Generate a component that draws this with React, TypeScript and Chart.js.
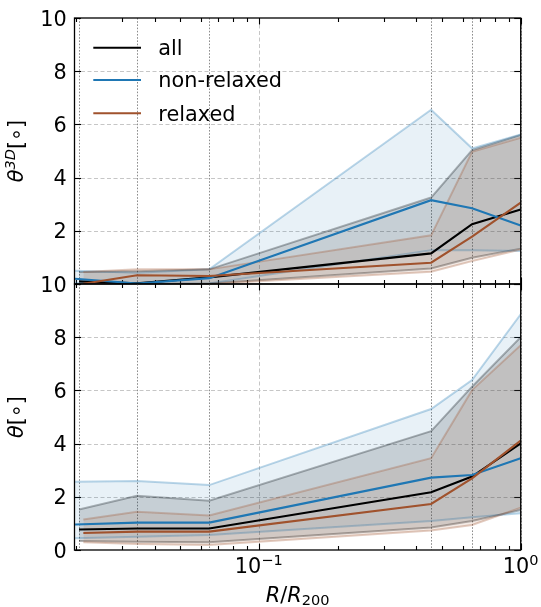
import React, { useEffect, useRef } from "react";
import { Chart, registerables } from "chart.js";
Chart.register(...registerables);

const FONT = '"DejaVu Sans", sans-serif';
const FS = 20.8;

// radial bin positions (R/R200)
const X_ALL = [0.0206, 0.0343, 0.0647, 0.455, 0.652, 1.0];
const X_NONRELAXED = [0.0199, 0.0343, 0.0647, 0.455, 0.652, 1.0];
const X_RELAXED = [0.0214, 0.0343, 0.0647, 0.455, 0.652, 1.0];

// top panel: theta^3D
const TOP_ALL_MED = [0.1, 0.03, 0.25, 1.15, 2.25, 2.8];
const TOP_ALL_LO = [0.02, 0.0, 0.02, 0.58, 0.99, 1.33];
const TOP_ALL_HI = [0.45, 0.48, 0.55, 3.25, 5.03, 5.6];
const TOP_NR_MED = [0.2, 0.02, 0.22, 3.15, 2.85, 2.2];
const TOP_NR_LO = [0.03, 0.0, 0.02, 1.27, 1.27, 1.24];
const TOP_NR_HI = [0.5, 0.42, 0.55, 6.55, 5.1, 5.62];
const TOP_R_MED = [0.01, 0.33, 0.3, 0.8, 1.78, 3.06];
const TOP_R_LO = [0.0, 0.0, 0.0, 0.46, 0.86, 1.3];
const TOP_R_HI = [0.45, 0.55, 0.55, 1.83, 4.97, 5.5];

// bottom panel: theta
const BOT_ALL_MED = [0.77, 0.81, 0.81, 2.17, 2.76, 4.01];
const BOT_ALL_LO = [0.34, 0.31, 0.29, 0.85, 1.09, 1.5];
const BOT_ALL_HI = [1.52, 2.04, 1.85, 4.47, 6.14, 8.0];
const BOT_NR_MED = [0.96, 1.03, 1.03, 2.72, 2.82, 3.45];
const BOT_NR_LO = [0.44, 0.5, 0.56, 1.09, 1.23, 1.38];
const BOT_NR_HI = [2.57, 2.59, 2.44, 5.3, 6.39, 8.86];
const BOT_R_MED = [0.64, 0.69, 0.69, 1.73, 2.69, 4.11];
const BOT_R_LO = [0.29, 0.23, 0.19, 0.73, 0.94, 1.59];
const BOT_R_HI = [1.15, 1.44, 1.3, 3.45, 6.01, 7.7];

const SERIES_LABELS = ["all", "non-relaxed", "relaxed"];
const SERIES_RGB = ["0,0,0", "31,119,180", "160,82,45"];
const FILL_ALPHA = [0.15, 0.1, 0.12];

const Y_TICKS = [0, 2, 4, 6, 8, 10];
const X_MAJOR = [0.1, 1];
const X_MINOR = [0.02, 0.03, 0.04, 0.05, 0.06, 0.07, 0.08, 0.09, 0.2, 0.3, 0.4, 0.5, 0.6, 0.7, 0.8, 0.9];
const X_MIN = 0.0198;
const X_MAX = 1.0;

type Part = { t: string; size?: number; italic?: boolean; dy?: number };
function fontOf(p: Part) {
  return `${p.italic ? "italic " : ""}${(p.size ?? 1) * FS}px ${FONT}`;
}
function drawRich(ctx: CanvasRenderingContext2D, parts: Part[], x: number, y: number, align: "left" | "center" | "right") {
  let w = 0;
  for (const p of parts) {
    ctx.font = fontOf(p);
    w += ctx.measureText(p.t).width;
  }
  let cx = align === "left" ? x : align === "center" ? x - w / 2 : x - w;
  ctx.textAlign = "left";
  ctx.textBaseline = "alphabetic";
  for (const p of parts) {
    ctx.font = fontOf(p);
    ctx.fillText(p.t, cx, y + (p.dy ?? 0));
    cx += ctx.measureText(p.t).width;
  }
}

function seg(ctx: CanvasRenderingContext2D, x1: number, y1: number, x2: number, y2: number) {
  ctx.beginPath();
  ctx.moveTo(x1, y1);
  ctx.lineTo(x2, y2);
  ctx.stroke();
}

const decor = {
  id: "decor",
  beforeDatasetsDraw(chart: any, _args: any, opts: any) {
    const { ctx, chartArea: a, scales } = chart;
    const xs = scales.x, ys = scales.y;
    ctx.save();
    // dashed grid
    ctx.strokeStyle = "#c6c6c6";
    ctx.lineWidth = 1;
    ctx.setLineDash([4, 2.5]);
    for (const v of Y_TICKS) {
      if (v === 0 || v === 10) continue;
      const y = Math.round(ys.getPixelForValue(v)) + 0.5;
      seg(ctx, a.left, y, a.right, y);
    }
    for (const v of X_MAJOR) {
      const x = Math.round(xs.getPixelForValue(v)) + 0.5;
      seg(ctx, x, a.top, x, a.bottom);
    }
    // dotted bin markers
    ctx.strokeStyle = "#8c8c8c";
    ctx.setLineDash([1.6, 1.6]);
    for (const v of X_ALL) {
      const x = Math.round(xs.getPixelForValue(v)) + 0.5;
      seg(ctx, x, a.top, x, a.bottom);
    }
    ctx.setLineDash([]);
    // inward ticks
    ctx.strokeStyle = "#000";
    ctx.lineWidth = 1.1;
    for (const v of X_MINOR) {
      const x = Math.round(xs.getPixelForValue(v)) + 0.5;
      seg(ctx, x, a.bottom, x, a.bottom - 4);
      seg(ctx, x, a.top, x, a.top + 4);
    }
    for (const v of X_MAJOR) {
      const x = Math.round(xs.getPixelForValue(v)) + 0.5;
      seg(ctx, x, a.bottom, x, a.bottom - 6.5);
      seg(ctx, x, a.top, x, a.top + 6.5);
    }
    for (const v of Y_TICKS) {
      const y = Math.round(ys.getPixelForValue(v)) + 0.5;
      seg(ctx, a.left, y, a.left + 6.5, y);
      seg(ctx, a.right, y, a.right - 6.5, y);
    }
    ctx.restore();
  },
  afterDatasetsDraw(chart: any, _args: any, opts: any) {
    const { ctx, chartArea: a, scales } = chart;
    const xs = scales.x, ys = scales.y;
    ctx.save();
    ctx.strokeStyle = "#000";
    ctx.lineWidth = 1.3;
    ctx.strokeRect(a.left, a.top, a.right - a.left, a.bottom - a.top);
    ctx.fillStyle = "#000";
    // y tick labels
    for (const v of Y_TICKS) {
      if (opts.panel === "top" && v === 0) continue;
      const y = ys.getPixelForValue(v);
      drawRich(ctx, [{ t: String(v) }], a.left - 7.8, y + 7.6, "right");
    }
    // y title (rotated)
    ctx.save();
    ctx.translate(22.7, (a.top + a.bottom) / 2);
    ctx.rotate(-Math.PI / 2);
    const parts: Part[] =
      opts.panel === "top"
        ? [{ t: "θ", italic: true }, { t: "3D", italic: true, size: 0.7, dy: -7.5 }, { t: "[∘]" }]
        : [{ t: "θ", italic: true }, { t: "[∘]" }];
    drawRich(ctx, parts, 0, 0, "center");
    ctx.restore();
    if (opts.panel === "bottom") {
      const sup = ["−1", "0"];
      X_MAJOR.forEach((v, i) => {
        const x = xs.getPixelForValue(v);
        drawRich(ctx, [{ t: "10" }, { t: sup[i], size: 0.7, dy: -8.2 }], x, a.bottom + 23, "center");
      });
      drawRich(
        ctx,
        [{ t: "R", italic: true }, { t: "/" }, { t: "R", italic: true }, { t: "200", size: 0.7, dy: 3.6 }],
        (a.left + a.right) / 2,
        a.bottom + 51.7,
        "center"
      );
    } else {
      // legend
      const rows = [47.7, 80, 113.3];
      SERIES_LABELS.forEach((lab, i) => {
        ctx.strokeStyle = `rgb(${SERIES_RGB[i]})`;
        ctx.lineWidth = 2.1;
        seg(ctx, 93.3, rows[i], 141, rows[i]);
        ctx.fillStyle = "#000";
        drawRich(ctx, [{ t: lab }], 158.3, rows[i] + 7.4, "left");
      });
    }
    ctx.restore();
  },
};

function pts(x: number[], y: number[]) {
  return x.map((v, i) => ({ x: v, y: y[i] }));
}

function buildDatasets(groups: { x: number[]; lo: number[]; hi: number[]; med: number[] }[]) {
  const ds: any[] = [];
  groups.forEach((g, i) => {
    const rgb = SERIES_RGB[i];
    const edgeAlpha = i === 0 ? 0.3 : 0.3;
    ds.push({
      label: SERIES_LABELS[i] + " lo",
      data: pts(g.x, g.lo),
      borderColor: `rgba(${rgb},${edgeAlpha})`,
      borderWidth: 2,
      pointRadius: 0,
      fill: false,
      order: 20 - i * 2,
      clip: 0,
    });
    ds.push({
      label: SERIES_LABELS[i] + " hi",
      data: pts(g.x, g.hi),
      borderColor: `rgba(${rgb},${edgeAlpha})`,
      backgroundColor: `rgba(${rgb},${FILL_ALPHA[i]})`,
      borderWidth: 2,
      pointRadius: 0,
      fill: "-1",
      order: 19 - i * 2,
      clip: 0,
    });
  });
  groups.forEach((g, i) => {
    ds.push({
      label: SERIES_LABELS[i],
      data: pts(g.x, g.med),
      borderColor: `rgb(${SERIES_RGB[i]})`,
      borderWidth: 2.1,
      pointRadius: 0,
      fill: false,
      order: 5 - i,
      clip: 0,
    });
  });
  return ds;
}

function makeConfig(panel: "top" | "bottom", groups: any[], padding: any): any {
  return {
    type: "line",
    data: { datasets: buildDatasets(groups) },
    options: {
      responsive: false,
      animation: false,
      devicePixelRatio: 1,
      layout: { padding },
      elements: { line: { tension: 0 } },
      scales: {
        x: { type: "logarithmic", min: X_MIN, max: X_MAX, display: false },
        y: { type: "linear", min: 0, max: 10, display: false },
      },
      plugins: {
        legend: { display: false },
        tooltip: { enabled: false },
        decor: { panel },
      },
    },
    plugins: [decor],
  };
}

export default function App() {
  const topRef = useRef<HTMLCanvasElement>(null);
  const botRef = useRef<HTMLCanvasElement>(null);
  useEffect(() => {
    const top = new Chart(
      topRef.current!,
      makeConfig(
        "top",
        [
          { x: X_ALL, lo: TOP_ALL_LO, hi: TOP_ALL_HI, med: TOP_ALL_MED },
          { x: X_NONRELAXED, lo: TOP_NR_LO, hi: TOP_NR_HI, med: TOP_NR_MED },
          { x: X_RELAXED, lo: TOP_R_LO, hi: TOP_R_HI, med: TOP_R_MED },
        ],
        { left: 74.5, right: 541 - 520.7, top: 18, bottom: 300 - 284 }
      )
    );
    const bot = new Chart(
      botRef.current!,
      makeConfig(
        "bottom",
        [
          { x: X_ALL, lo: BOT_ALL_LO, hi: BOT_ALL_HI, med: BOT_ALL_MED },
          { x: X_NONRELAXED, lo: BOT_NR_LO, hi: BOT_NR_HI, med: BOT_NR_MED },
          { x: X_RELAXED, lo: BOT_R_LO, hi: BOT_R_HI, med: BOT_R_MED },
        ],
        { left: 74.5, right: 541 - 520.7, top: 284 - 270, bottom: 337 - (550 - 270) }
      )
    );
    return () => {
      top.destroy();
      bot.destroy();
    };
  }, []);
  return (
    <div style={{ position: "fixed", left: 0, top: 0, width: 541, height: 607, background: "#fff" }}>
      <canvas
        ref={topRef}
        width={541}
        height={300}
        style={{ position: "absolute", left: 0, top: 0, width: 541, height: 300 }}
      />
      <canvas
        ref={botRef}
        width={541}
        height={337}
        style={{ position: "absolute", left: 0, top: 270, width: 541, height: 337 }}
      />
    </div>
  );
}
